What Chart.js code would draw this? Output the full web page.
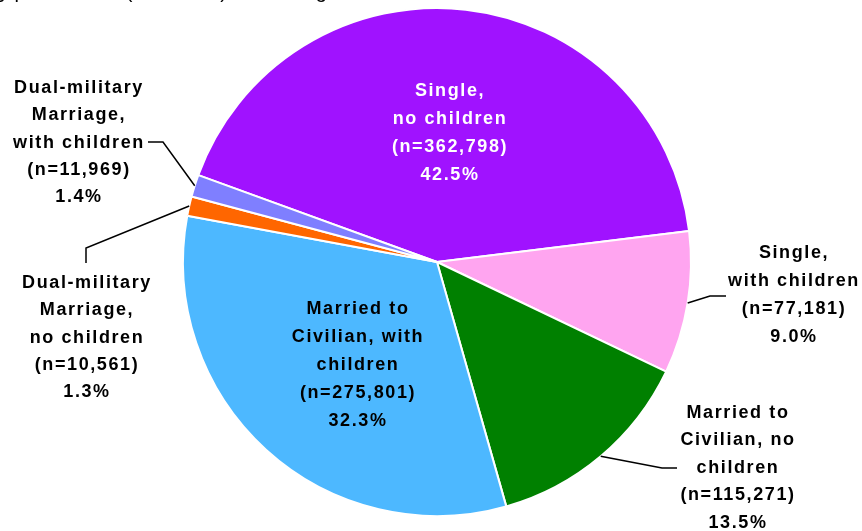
<!DOCTYPE html>
<html>
<head>
<meta charset="utf-8">
<script src="https://cdn.jsdelivr.net/npm/chart.js@4.4.0/dist/chart.umd.min.js"></script>
<style>
    body { margin: 0; background: #fff; }
    canvas { display: block; }
</style>
</head>
<body>
<canvas id="chart" width="862" height="531"></canvas>
<script>
let Groups = [
    "Single, no children",
    "Single, with children",
    "Married to Civilian, no children",
    "Married to Civilian, with children",
    "Dual-military Marriage, no children",
    "Dual-military Marriage, with children"
];
let Members = [362798, 77181, 115271, 275801, 10561, 11969];
let Percents = ["42.5%", "9.0%", "13.5%", "32.3%", "1.3%", "1.4%"];
let LabelLines = [
    ["Single,", "no children"],
    ["Single,", "with children"],
    ["Married to", "Civilian, no", "children"],
    ["Married to", "Civilian, with", "children"],
    ["Dual-military", "Marriage,", "no children"],
    ["Dual-military", "Marriage,", "with children"]
];

// where each label sits, and the bend of its leader line
let labelSpots = [
    { x: 449, y: 91, gap: 28, colour: "#fff" },
    { x: 793, y: 253, gap: 28, colour: "#000", leader: [[710, 296], [726, 296]] },
    { x: 737, y: 413, gap: 27.5, colour: "#000", leader: [[662, 468], [677, 468]] },
    { x: 357, y: 309, gap: 28, colour: "#000" },
    { x: 86, y: 283, gap: 27.3, colour: "#000", leader: [[86, 248], [86, 263]] },
    { x: 78, y: 88, gap: 27.3, colour: "#000", leader: [[163, 142], [148, 142]] }
];

let pieLabels = {
    id: "pieLabels",
    afterDraw: function(chart)
    {
        let ctx = chart.ctx;
        let arcs = chart.getDatasetMeta(0).data;
        ctx.save();

        // heading above the chart, mostly cut off by the top edge
        ctx.font = "20px 'Liberation Sans', Arial, sans-serif";
        ctx.fillStyle = "#000";
        ctx.textBaseline = "alphabetic";
        ctx.textAlign = "left";
        let lead = ctx.measureText("Active duty members b").width;
        ctx.fillText("Active duty members by percent and (total force) and the age", -1 - lead, -2);

        ctx.font = "bold 18px 'Liberation Sans', Arial, sans-serif";
        ctx.textAlign = "center";
        ctx.textBaseline = "middle";
        ctx.letterSpacing = "1.6px";
        ctx.lineWidth = 1.5;
        ctx.strokeStyle = "#000";

        for(let i = 0; i < arcs.length; i++)
        {
            let spot = labelSpots[i];
            let a = arcs[i].getProps(["x", "y", "startAngle", "endAngle", "outerRadius"], true);
            if(spot.leader)
            {
                let mid = (a.startAngle + a.endAngle) / 2;
                ctx.beginPath();
                ctx.moveTo(a.x + Math.cos(mid) * a.outerRadius, a.y + Math.sin(mid) * a.outerRadius);
                for(let p = 0; p < spot.leader.length; p++)
                {
                    ctx.lineTo(spot.leader[p][0], spot.leader[p][1]);
                }
                ctx.stroke();
            }

            let lines = LabelLines[i].concat(["(n=" + Members[i].toLocaleString("en-US") + ")", Percents[i]]);
            ctx.fillStyle = spot.colour;
            for(let l = 0; l < lines.length; l++)
            {
                ctx.fillText(lines[l], spot.x + 1, spot.y + l * spot.gap);
            }
        }
        ctx.restore();
    }
};

let myChart = document.getElementById("chart").getContext("2d");
let display = new Chart(myChart,
{
    type: "pie",
    data:
    {
        labels: Groups,
        datasets: [
            {
                data: Members,
                backgroundColor: ["#A012FF", "#FFA5F0", "#008000", "#4DB8FF", "#FF6600", "#7F7FFF"],
                borderColor: "#fff",
                borderWidth: 2,
                hoverOffset: 0,
                radius: 254
            }
        ]
    },
    options:
    {
        responsive: false,
        animation: false,
        rotation: 290,
        layout: { padding: { left: 12, right: 0, top: 4, bottom: 11 } },
        plugins:
        {
            legend: { display: false },
            tooltip: { enabled: false }
        }
    },
    plugins: [pieLabels]
});
</script>
</body>
</html>
